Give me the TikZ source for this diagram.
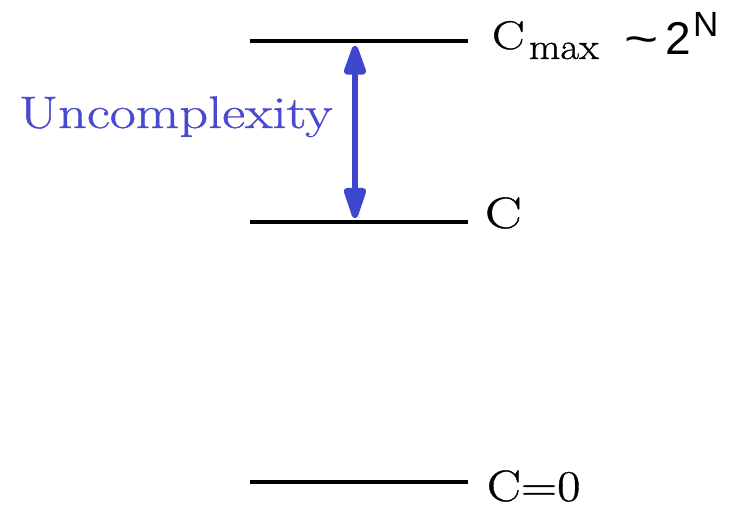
\documentclass[tikz,border=0pt]{standalone}
\usepackage{fontspec}
\newfontfamily\arialfont{Liberation Sans}
\newfontfamily\heavyserif[FakeBold=0.8]{Latin Modern Roman}
\usetikzlibrary{arrows.meta}
\definecolor{arrowblue}{HTML}{3F48CC}
\definecolor{textblue}{HTML}{4A4ACF}
\newcommand{\wide}[2]{\scalebox{#1}[1]{#2}}
\begin{document}
\begin{tikzpicture}[x=1pt,y=-1pt,
  level/.style={line width=4pt,black},
  lbl/.style={anchor=base west,inner sep=0pt,outer sep=0pt},
  dblarrow/.style={arrowblue,line width=6.5pt,
    {Triangle[width=23pt,length=36pt,round]}-{Triangle[width=23pt,length=38pt,round]}}]
\useasboundingbox (0,0) rectangle (731,505);
% level lines
\coordinate (t1) at (250,41);  \coordinate (t2) at (468,41);
\coordinate (m1) at (250,222); \coordinate (m2) at (468,222);
\coordinate (b1) at (250,482); \coordinate (b2) at (468,482);
\draw[level] (t1) -- (t2);
\draw[level] (m1) -- (m2);
\draw[level] (b1) -- (b2);
% arrow
\coordinate (atop) at (355,46);
\coordinate (abot) at (355,218);
\draw[dblarrow] (atop) -- (abot);
% labels
\node[lbl,textblue] (unc) at (19,128) {\wide{1.24}{\heavyserif\fontsize{45.5}{50}\selectfont Uncomplexity}};
\node[lbl] (cm) at (492,49) {\wide{1.22}{\heavyserif\fontsize{40}{44}\selectfont C}};
\node[lbl] (max) at (529,59) {\wide{1.1}{\heavyserif\fontsize{37}{40}\selectfont max}};
\node[lbl] (tl) at (624,55) {\wide{1.3}{\arialfont\fontsize{45}{50}\selectfont \char"007E}};
\node[lbl] (two) at (665,55) {\arialfont\fontsize{46}{50}\selectfont 2};
\node[lbl] (nn) at (693,37) {\arialfont\fontsize{35}{40}\selectfont N};
\node[lbl] (cc) at (485,228) {\wide{1.25}{\heavyserif\fontsize{44}{48}\selectfont C}};
\node[lbl] (c0) at (487,501) {\wide{1.15}{\heavyserif\fontsize{44}{48}\selectfont C=0}};
\end{tikzpicture}
\end{document}
